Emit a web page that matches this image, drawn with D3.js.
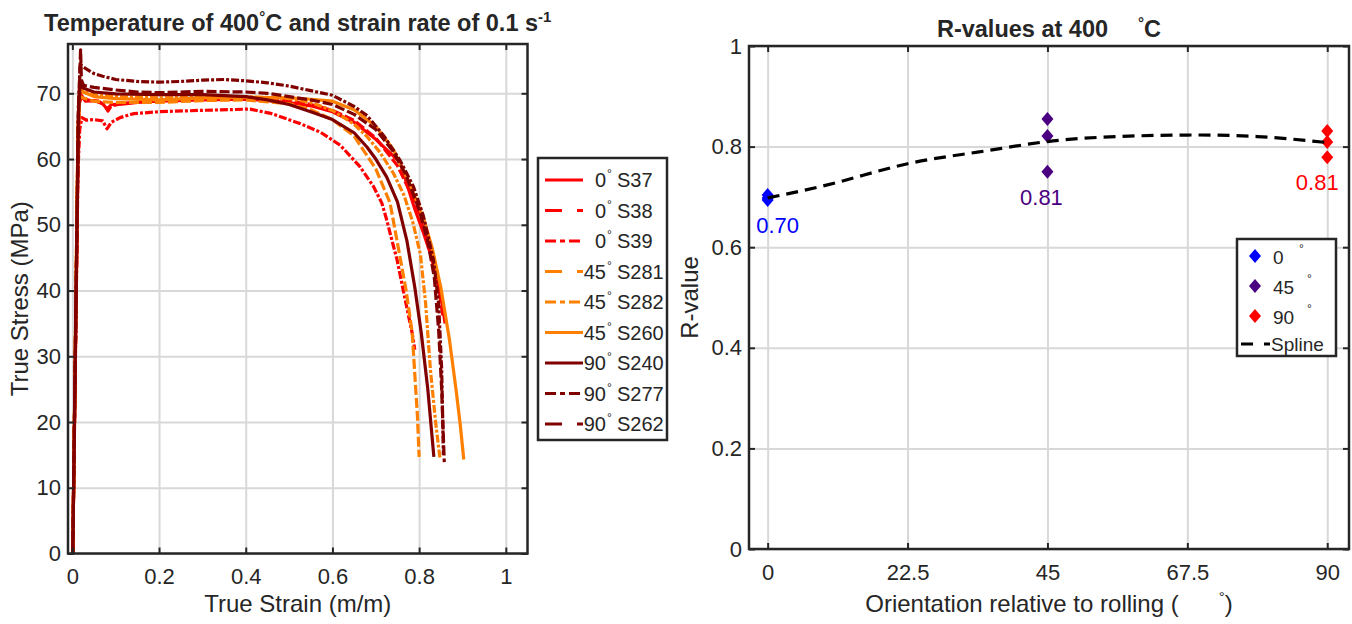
<!DOCTYPE html>
<html>
<head>
<meta charset="utf-8">
<title>stress strain / r-values 400C</title>
<script src="https://d3js.org/d3.v7.min.js"></script>
<style>
body { margin:0; background:#fff; }
svg text { font-family: "Liberation Sans", Arial, sans-serif; fill:#262626; }
.grid line { stroke:#d8d8d8; stroke-width:2; }
.grid .domain { display:none; }
.ax line { stroke:#262626; stroke-width:2; }
</style>
</head>
<body>
<svg id="chart" width="1352" height="624"></svg>
<script>
// ---------- left plot : true strain (m/m) vs true stress (MPa) ----------
var strainTicks = [0, 0.2, 0.4, 0.6, 0.8, 1];
var stressTicks = [0, 10, 20, 30, 40, 50, 60, 70];

var angles  = ["0", "0", "0", "45", "45", "45", "90", "90", "90"];
var samples = ["S37", "S38", "S39", "S281", "S282", "S260", "S240", "S277", "S262"];

// [strain, stress]
var s37 = [[0.001,0],[0.013,60],[0.016,68.5],[0.022,69.6],[0.03,68.8],[0.05,68.9],[0.07,68.4],[0.08,67.6],[0.09,68.3],[0.12,68.4],[0.16,68.7],[0.2,68.8],[0.3,69.0],[0.4,69.1],[0.45,68.9],[0.5,68.6],[0.55,68.1],[0.6,67.2],[0.65,65.6],[0.7,63.0],[0.756,59.5],[0.79,52.4],[0.81,48.8],[0.826,45.6],[0.84,42.1],[0.85,39.2],[0.86,35.0]];
var s38 = [[0.001,0],[0.013,62],[0.017,70.2],[0.024,69.3],[0.04,68.9],[0.06,68.8],[0.075,68.2],[0.082,67.3],[0.09,68.1],[0.12,68.5],[0.2,68.9],[0.3,69.2],[0.4,69.3],[0.5,68.9],[0.55,68.3],[0.6,67.4],[0.65,65.9],[0.7,63.2],[0.75,59.0],[0.79,53.5],[0.81,50.0],[0.83,45.5],[0.845,40.5],[0.855,36.0]];
var s39 = [[0.001,0],[0.013,58],[0.017,64.5],[0.022,66.3],[0.033,65.9],[0.05,66.0],[0.07,65.8],[0.08,64.6],[0.09,65.6],[0.11,66.3],[0.141,66.9],[0.2,67.2],[0.295,67.4],[0.41,67.6],[0.46,66.9],[0.525,65.4],[0.572,64.1],[0.618,62.1],[0.664,58.8],[0.695,55.8],[0.714,53.3],[0.725,50.8],[0.741,46.7],[0.749,44.7],[0.765,39.5],[0.784,33.5],[0.79,31.0]];
var s281 = [[0.001,0],[0.013,63],[0.017,69.5],[0.025,69.3],[0.05,68.8],[0.1,68.6],[0.2,68.6],[0.3,68.9],[0.4,69.0],[0.5,68.4],[0.55,67.5],[0.6,66.0],[0.65,63.5],[0.7,58.5],[0.733,53.3],[0.752,46.5],[0.77,40.0],[0.784,33.6],[0.796,21.0],[0.8,14.7]];
var s282 = [[0.001,0],[0.013,65],[0.017,71.0],[0.025,70.3],[0.05,69.8],[0.1,69.5],[0.2,69.3],[0.3,69.5],[0.4,69.5],[0.5,69.2],[0.55,68.6],[0.6,67.4],[0.65,65.3],[0.68,63.4],[0.71,61.0],[0.741,57.8],[0.765,54.5],[0.785,50.5],[0.803,45.5],[0.815,38.0],[0.826,28.0],[0.838,20.0],[0.848,14.5]];
var s260 = [[0.001,0],[0.013,64],[0.017,70.5],[0.025,70.2],[0.05,69.5],[0.1,69.2],[0.2,69.0],[0.3,69.3],[0.4,69.4],[0.5,69.3],[0.55,69.1],[0.6,68.8],[0.65,67.5],[0.7,65.0],[0.74,61.5],[0.78,56.0],[0.81,51.0],[0.83,46.5],[0.85,40.5],[0.87,32.5],[0.885,25.0],[0.895,19.5],[0.903,14.3]];
var s240 = [[0.001,0],[0.014,67],[0.018,71.5],[0.025,70.8],[0.05,70.2],[0.1,69.9],[0.2,69.8],[0.3,69.8],[0.4,69.5],[0.45,69.0],[0.5,68.3],[0.55,67.2],[0.6,66.0],[0.65,64.0],[0.68,61.8],[0.7,60.0],[0.725,57.3],[0.75,53.5],[0.772,47.5],[0.79,40.5],[0.805,33.5],[0.82,25.0],[0.834,14.7]];
var s277 = [[0.001,0],[0.014,68],[0.018,74.5],[0.022,74.2],[0.03,73.8],[0.05,73.0],[0.07,72.6],[0.1,72.1],[0.15,71.8],[0.2,71.7],[0.25,71.8],[0.3,72.0],[0.35,72.1],[0.4,71.9],[0.45,71.6],[0.5,71.1],[0.55,70.4],[0.6,69.7],[0.65,68.0],[0.68,66.6],[0.72,63.4],[0.756,59.8],[0.787,55.8],[0.81,51.3],[0.833,44.7],[0.845,38.0],[0.852,28.0],[0.856,15.0]];
var s262 = [[0.001,0],[0.014,66],[0.019,76.6],[0.021,72.0],[0.026,71.2],[0.05,70.9],[0.1,70.5],[0.15,70.2],[0.2,70.1],[0.3,70.3],[0.4,70.2],[0.45,70.0],[0.5,69.5],[0.55,69.0],[0.6,68.3],[0.65,66.8],[0.7,64.5],[0.74,61.2],[0.77,57.5],[0.8,52.3],[0.82,47.5],[0.835,42.0],[0.845,34.0],[0.852,25.0],[0.858,13.9]];
var curves = [s37, s38, s39, s281, s282, s260, s240, s277, s262];

// ---------- right plot : R-values ----------
var orientTicks = [0, 22.5, 45, 67.5, 90];
var rTicks = [0, 0.2, 0.4, 0.6, 0.8, 1];
var orientAngles = [0, 45, 90];
var rAt0  = [0.704, 0.694, 0.698];
var rAt45 = [0.855, 0.821, 0.750];
var rAt90 = [0.831, 0.809, 0.779];
var rMean = [0.70, 0.81, 0.81];
var splineAngles = [0, 11.25, 22.5, 33.75, 45, 56.25, 67.5, 78.75, 90];
var splineR = [0.698, 0.729, 0.766, 0.789, 0.810, 0.820, 0.823, 0.820, 0.808];

// styles
var RED = "#ff0000", ORANGE = "#ff8000", DARK = "#800000";
var curveColour = [RED, RED, RED, ORANGE, ORANGE, ORANGE, DARK, DARK, DARK];
var curveKind = ["solid", "dash", "dashdot", "dash", "dashdot", "solid", "solid", "dashdot", "dash"];
var plotDash = { solid: null, dash: "10,3", dashdot: "8,2,3,2" };
var legDash = { solid: null, dash: "17,15", dashdot: "11,4,5,4" };
var rColour = ["#0000ff", "#4b0082", "#ff0000"];

var svg = d3.select("#chart");
var INK = "#262626";

function frame(box, x, y, xt, yt) {
	var h = box.bottom - box.top, w = box.right - box.left;
	svg.append("g").attr("class", "grid").attr("transform", "translate(0," + box.bottom + ")")
		.call(d3.axisBottom(x).tickValues(xt).tickSize(-h).tickFormat(""));
	svg.append("g").attr("class", "grid").attr("transform", "translate(" + box.left + ",0)")
		.call(d3.axisLeft(y).tickValues(yt).tickSize(-w).tickFormat(""));
}

function axes(box, x, y, xt, yt, xfmt, yfmt) {
	function tidy(g) {
		g.select(".domain").remove();
		g.attr("font-size", 22).attr("font-family", null).attr("color", INK).attr("class", "ax");
	}
	svg.append("g").attr("transform", "translate(0," + box.bottom + ")")
		.call(d3.axisBottom(x).tickValues(xt).tickSizeInner(-6).tickSizeOuter(0).tickPadding(15).tickFormat(xfmt)).call(tidy);
	svg.append("g").attr("transform", "translate(0," + box.top + ")")
		.call(d3.axisTop(x).tickValues(xt).tickSizeInner(-6).tickSizeOuter(0).tickFormat("")).call(tidy);
	svg.append("g").attr("transform", "translate(" + box.left + ",0)")
		.call(d3.axisLeft(y).tickValues(yt).tickSizeInner(-6).tickSizeOuter(0).tickPadding(7).tickFormat(yfmt)).call(tidy);
	svg.append("g").attr("transform", "translate(" + box.right + ",0)")
		.call(d3.axisRight(y).tickValues(yt).tickSizeInner(-6).tickSizeOuter(0).tickFormat("")).call(tidy);
	svg.append("rect").attr("x", box.left).attr("y", box.top)
		.attr("width", box.right - box.left).attr("height", box.bottom - box.top)
		.attr("fill", "none").attr("stroke", INK).attr("stroke-width", 2.5);
}

// ===== left =====
var L = { left: 68, right: 527.5, top: 44, bottom: 553.5 };
var xL = d3.scaleLinear().domain([-0.01, 1.05]).range([L.left, L.right]);
var yL = d3.scaleLinear().domain([0, 77.5]).range([L.bottom, L.top]);

frame(L, xL, yL, strainTicks, stressTicks);

svg.append("clipPath").attr("id", "clipL").append("rect")
	.attr("x", L.left).attr("y", L.top).attr("width", L.right - L.left).attr("height", L.bottom - L.top);

var lineL = d3.line().x(function(d) { return xL(d[0]); }).y(function(d) { return yL(d[1]); });

svg.append("g").attr("clip-path", "url(#clipL)")
	.selectAll("path").data(curves).join("path")
	.attr("d", lineL)
	.attr("fill", "none")
	.attr("stroke", function(d, i) { return curveColour[i]; })
	.attr("stroke-width", 3.2)
	.attr("stroke-linejoin", "round")
	.attr("stroke-dasharray", function(d, i) { return plotDash[curveKind[i]]; });

axes(L, xL, yL, strainTicks, stressTicks, function(d) { return String(d); }, function(d) { return String(d); });

// title
var t1 = svg.append("text").attr("x", (L.left + L.right) / 2).attr("y", 31)
	.attr("text-anchor", "middle").attr("font-size", 23.5).attr("font-weight", "bold").attr("fill", "#000");
t1.append("tspan").text("Temperature of 400");
t1.append("tspan").attr("font-size", 15).attr("dy", -9).text("°");
t1.append("tspan").attr("dy", 9).text("C and strain rate of 0.1 s");
t1.append("tspan").attr("font-size", 15).attr("dy", -9).text("-1");

svg.append("text").attr("x", (L.left + L.right) / 2).attr("y", 612)
	.attr("text-anchor", "middle").attr("font-size", 24).text("True Strain (m/m)");
svg.append("text").attr("transform", "translate(28," + ((L.top + L.bottom) / 2) + ") rotate(-90)")
	.attr("text-anchor", "middle").attr("font-size", 24).text("True Stress (MPa)");

// legend
var leg = svg.append("g");
leg.append("rect").attr("x", 538).attr("y", 158).attr("width", 129).attr("height", 282)
	.attr("fill", "#fff").attr("stroke", INK).attr("stroke-width", 2.5);
samples.forEach(function(s, i) {
	var yy = 180 + i * 30.5;
	leg.append("line").attr("x1", 545).attr("x2", 583).attr("y1", yy).attr("y2", yy)
		.attr("stroke", curveColour[i]).attr("stroke-width", 3.2)
		.attr("stroke-dasharray", legDash[curveKind[i]]);
	leg.append("text").attr("x", 606).attr("y", yy + 7).attr("text-anchor", "end")
		.attr("font-size", 20).text(angles[i]);
	leg.append("text").attr("x", 607).attr("y", yy - 2).attr("font-size", 12).text("°");
	leg.append("text").attr("x", 617).attr("y", yy + 7).attr("font-size", 20).text(s);
});

// ===== right =====
var R = { left: 749, right: 1349, top: 46, bottom: 549 };
var xR = d3.scaleLinear().domain([-3, 93.5]).range([R.left, R.right]);
var yR = d3.scaleLinear().domain([0, 1]).range([R.bottom, R.top]);

frame(R, xR, yR, orientTicks, rTicks);

var groups = [rAt0, rAt45, rAt90];
var diamond = "M0,-7L6,0L0,7L-6,0Z";
groups.forEach(function(vals, gi) {
	svg.append("g").selectAll("path").data(vals).join("path")
		.attr("d", diamond)
		.attr("transform", function(v) { return "translate(" + xR(orientAngles[gi]) + "," + yR(v) + ")"; })
		.attr("fill", rColour[gi]);
	var dx = [10, -6, -10][gi];
	svg.append("text").attr("x", xR(orientAngles[gi]) + dx).attr("y", yR(d3.min(vals)) + 33)
		.attr("text-anchor", "middle").attr("font-size", 22).style("fill", rColour[gi])
		.text(d3.format(".2f")(rMean[gi]));
});

var spl = splineAngles.map(function(a, i) { return [a, splineR[i]]; });
svg.append("path").datum(spl)
	.attr("d", d3.line().curve(d3.curveNatural).x(function(d) { return xR(d[0]); }).y(function(d) { return yR(d[1]); }))
	.attr("fill", "none").attr("stroke", "#000").attr("stroke-width", 3.2).attr("stroke-dasharray", "12,7");

axes(R, xR, yR, orientTicks, rTicks, function(d) { return String(d); }, function(d) { return String(d); });

var t2 = svg.append("text").attr("x", (R.left + R.right) / 2).attr("y", 37)
	.attr("text-anchor", "middle").attr("font-size", 23.5).attr("font-weight", "bold").attr("fill", "#000");
t2.append("tspan").text("R-values at 400");
t2.append("tspan").attr("font-size", 15).attr("dx", 30).attr("dy", -9).text("°");
t2.append("tspan").attr("dy", 9).text("C");

var xl = svg.append("text").attr("x", (R.left + R.right) / 2).attr("y", 612)
	.attr("text-anchor", "middle").attr("font-size", 24);
xl.append("tspan").text("Orientation relative to rolling (");
xl.append("tspan").attr("font-size", 15).attr("dx", 40).attr("dy", -10).text("°");
xl.append("tspan").attr("dy", 10).text(")");

svg.append("text").attr("transform", "translate(698," + ((R.top + R.bottom) / 2) + ") rotate(-90)")
	.attr("text-anchor", "middle").attr("font-size", 24).text("R-value");

// legend right
var leg2 = svg.append("g");
leg2.append("rect").attr("x", 1237).attr("y", 239).attr("width", 99).attr("height", 117)
	.attr("fill", "#fff").attr("stroke", INK).attr("stroke-width", 2.5);
orientAngles.forEach(function(a, i) {
	var yy = 256 + i * 30;
	leg2.append("path").attr("d", diamond).attr("transform", "translate(1255," + yy + ")").attr("fill", rColour[i]);
	var lab = String(a);
	leg2.append("text").attr("x", 1273).attr("y", yy + 8).attr("font-size", 19).text(lab);
	leg2.append("text").attr("x", 1273 + (lab.length === 1 ? 26 : 34)).attr("y", yy - 3).attr("font-size", 12).text("°");
});
leg2.append("line").attr("x1", 1241).attr("x2", 1270).attr("y1", 344).attr("y2", 344)
	.attr("stroke", "#000").attr("stroke-width", 3.2).attr("stroke-dasharray", "12,11");
leg2.append("text").attr("x", 1271).attr("y", 351).attr("font-size", 19).text("Spline");
</script>
</body>
</html>
